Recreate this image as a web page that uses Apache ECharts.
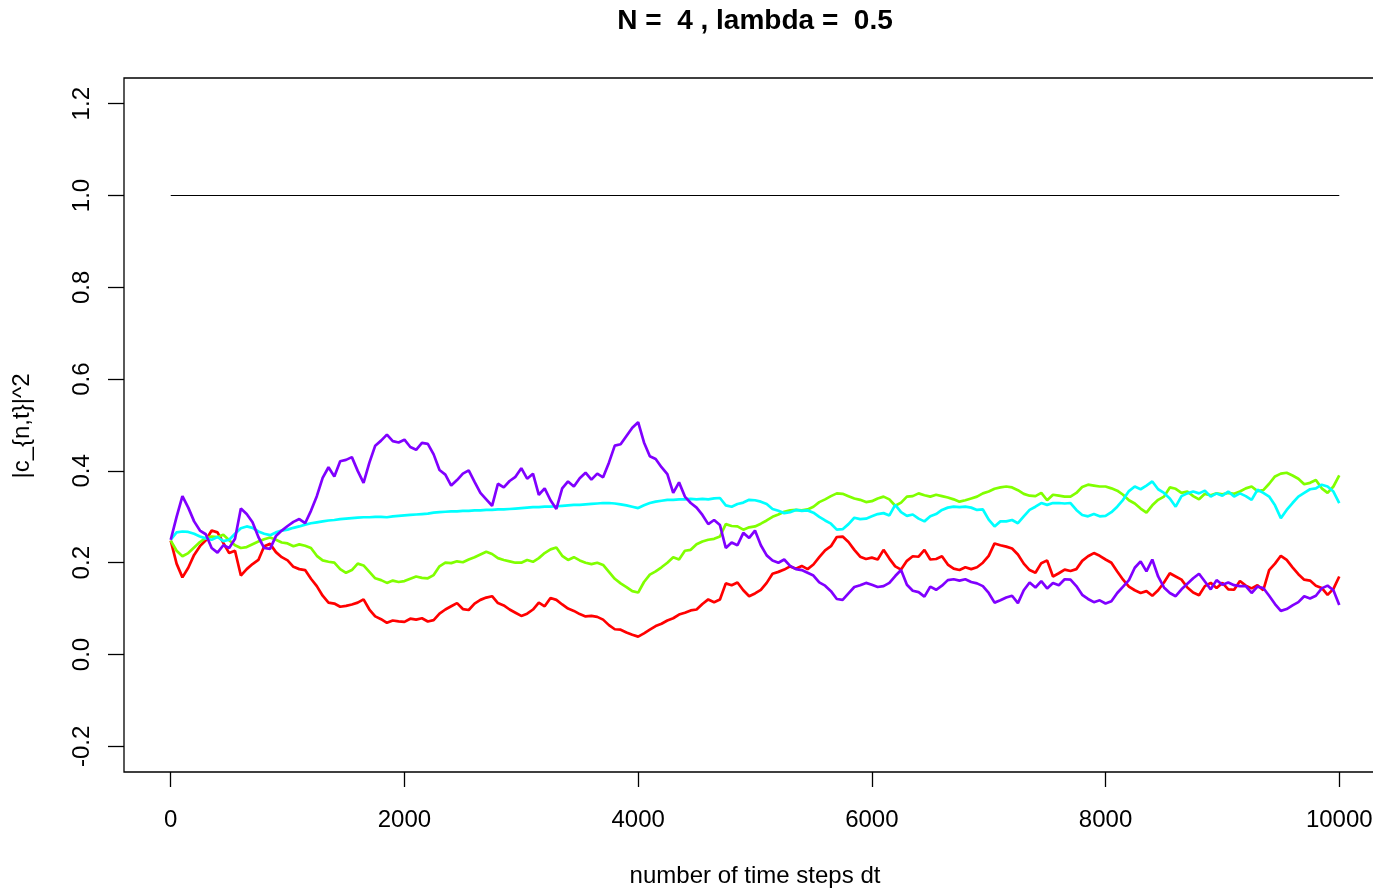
<!DOCTYPE html>
<html>
<head>
<meta charset="utf-8">
<script src="https://cdn.jsdelivr.net/npm/echarts@6/dist/echarts.min.js"></script>
<style>
  html, body { margin: 0; padding: 0; background: #fff; }
  #chart { width: 1373px; height: 890px; }
</style>
</head>
<body>
<div id="chart"></div>
<script>
// Occupation probabilities |c_{n,t}|^2 for N = 4 states, sampled every 50 time steps
const sampleEvery = 50;

const xTicks = [0, 2000, 4000, 6000, 8000, 10000];
const yTicks = [-0.2, 0, 0.2, 0.4, 0.6, 0.8, 1.0, 1.2];

const totalProb = [1.0, 1.0];           // sum over states, at t = 0 and t = 10000
const totalProbT = [0, 10000];

const state1 = [ // red
  0.248, 0.198, 0.168, 0.189, 0.217, 0.236, 0.249, 0.270, 0.266, 0.243,
  0.221, 0.226, 0.172, 0.186, 0.197, 0.206, 0.236, 0.241, 0.223, 0.212,
  0.205, 0.191, 0.186, 0.184, 0.165, 0.149, 0.128, 0.113, 0.111, 0.104,
  0.106, 0.109, 0.113, 0.120, 0.098, 0.083, 0.077, 0.069, 0.074, 0.072,
  0.071, 0.078, 0.076, 0.079, 0.072, 0.075, 0.089, 0.098, 0.105, 0.112,
  0.099, 0.097, 0.111, 0.119, 0.124, 0.127, 0.112, 0.107, 0.098, 0.091,
  0.084, 0.089, 0.098, 0.113, 0.105, 0.123, 0.119, 0.109, 0.100, 0.095,
  0.088, 0.083, 0.084, 0.082, 0.076, 0.064, 0.055, 0.054, 0.048, 0.043,
  0.039, 0.046, 0.054, 0.062, 0.067, 0.074, 0.079, 0.087, 0.091, 0.096,
  0.098, 0.110, 0.120, 0.114, 0.120, 0.155, 0.151, 0.157, 0.140, 0.127,
  0.133, 0.141, 0.156, 0.176, 0.180, 0.185, 0.192, 0.187, 0.193, 0.186,
  0.196, 0.212, 0.227, 0.236, 0.256, 0.257, 0.245, 0.228, 0.213, 0.208,
  0.211, 0.207, 0.228, 0.209, 0.192, 0.185, 0.204, 0.214, 0.213, 0.228,
  0.207, 0.208, 0.214, 0.196, 0.187, 0.184, 0.190, 0.186, 0.190, 0.200,
  0.215, 0.242, 0.238, 0.235, 0.231, 0.218, 0.198, 0.184, 0.178, 0.199,
  0.205, 0.170, 0.177, 0.185, 0.182, 0.186, 0.204, 0.214, 0.221, 0.215,
  0.207, 0.200, 0.181, 0.163, 0.148, 0.140, 0.134, 0.138, 0.128, 0.140,
  0.157, 0.177, 0.170, 0.163, 0.146, 0.135, 0.129, 0.149, 0.156, 0.145,
  0.156, 0.142, 0.141, 0.160, 0.150, 0.144, 0.151, 0.140, 0.184, 0.198,
  0.215, 0.206, 0.190, 0.175, 0.163, 0.161, 0.150, 0.145, 0.130, 0.143, 0.170
];

const state2 = [ // green
  0.248, 0.226, 0.214, 0.221, 0.233, 0.245, 0.254, 0.257, 0.256, 0.261,
  0.249, 0.238, 0.232, 0.234, 0.240, 0.246, 0.251, 0.255, 0.250, 0.244,
  0.242, 0.236, 0.240, 0.237, 0.232, 0.215, 0.205, 0.202, 0.200, 0.186,
  0.178, 0.184, 0.198, 0.194, 0.180, 0.166, 0.162, 0.156, 0.161, 0.158,
  0.160, 0.165, 0.170, 0.167, 0.166, 0.173, 0.192, 0.200, 0.199, 0.203,
  0.201, 0.207, 0.212, 0.218, 0.224, 0.219, 0.210, 0.206, 0.203, 0.200,
  0.200, 0.206, 0.202, 0.210, 0.221, 0.229, 0.233, 0.215, 0.206, 0.212,
  0.205, 0.200, 0.197, 0.200, 0.195, 0.180, 0.165, 0.155, 0.147, 0.138,
  0.135, 0.158, 0.174, 0.181, 0.190, 0.200, 0.212, 0.207, 0.226, 0.228,
  0.240, 0.246, 0.250, 0.252, 0.257, 0.284, 0.280, 0.279, 0.272, 0.277,
  0.279, 0.285, 0.292, 0.300, 0.305, 0.311, 0.314, 0.315, 0.314, 0.316,
  0.322, 0.332, 0.338, 0.345, 0.351, 0.350, 0.345, 0.340, 0.337, 0.332,
  0.334, 0.340, 0.344, 0.338, 0.324, 0.331, 0.344, 0.345, 0.351, 0.347,
  0.344, 0.348, 0.345, 0.342, 0.338, 0.333, 0.336, 0.340, 0.344, 0.351,
  0.355, 0.361, 0.364, 0.366, 0.364, 0.358, 0.350, 0.346, 0.345, 0.352,
  0.336, 0.348, 0.346, 0.344, 0.344, 0.352, 0.365, 0.370, 0.368, 0.366,
  0.366, 0.362, 0.357, 0.348, 0.336, 0.329, 0.318, 0.309, 0.325, 0.337,
  0.344, 0.364, 0.361, 0.352, 0.355, 0.345, 0.338, 0.350, 0.347, 0.351,
  0.349, 0.352, 0.350, 0.355, 0.362, 0.366, 0.356, 0.358, 0.372, 0.388,
  0.394, 0.396, 0.390, 0.383, 0.371, 0.374, 0.380, 0.362, 0.352, 0.366, 0.390
];

const state3 = [ // cyan
  0.250, 0.266, 0.268, 0.267, 0.263, 0.257, 0.253, 0.250, 0.256, 0.247,
  0.250, 0.263, 0.275, 0.279, 0.276, 0.268, 0.263, 0.260, 0.266, 0.270,
  0.272, 0.276, 0.279, 0.283, 0.286, 0.288, 0.290, 0.292, 0.293, 0.295,
  0.296, 0.297, 0.298, 0.299, 0.299, 0.300, 0.300, 0.299, 0.301, 0.302,
  0.303, 0.304, 0.305, 0.306, 0.307, 0.309, 0.310, 0.311, 0.312, 0.312,
  0.313, 0.313, 0.314, 0.314, 0.315, 0.315, 0.316, 0.316, 0.317, 0.318,
  0.319, 0.320, 0.321, 0.321, 0.322, 0.322, 0.323, 0.324, 0.325, 0.326,
  0.326, 0.327, 0.328, 0.329, 0.330, 0.330, 0.329, 0.327, 0.325, 0.322,
  0.319, 0.325, 0.330, 0.333, 0.335, 0.337, 0.337, 0.338, 0.338, 0.339,
  0.338, 0.339, 0.338, 0.340, 0.341, 0.325, 0.322, 0.328, 0.331, 0.337,
  0.336, 0.333, 0.328, 0.317, 0.313, 0.308, 0.310, 0.315, 0.313, 0.314,
  0.309, 0.300, 0.292, 0.285, 0.272, 0.273, 0.284, 0.298, 0.295, 0.296,
  0.301, 0.306, 0.308, 0.303, 0.326, 0.310, 0.302, 0.305, 0.296, 0.290,
  0.301, 0.306, 0.315, 0.320, 0.322, 0.321, 0.322, 0.320, 0.315, 0.316,
  0.294, 0.279, 0.290, 0.290, 0.293, 0.286, 0.301, 0.315, 0.322, 0.330,
  0.326, 0.330, 0.330, 0.329, 0.330, 0.315, 0.304, 0.301, 0.306, 0.301,
  0.302, 0.310, 0.322, 0.337, 0.356, 0.366, 0.360, 0.368, 0.377, 0.360,
  0.352, 0.340, 0.322, 0.345, 0.351, 0.355, 0.351, 0.357, 0.344, 0.351,
  0.346, 0.355, 0.344, 0.351, 0.345, 0.337, 0.359, 0.352, 0.344, 0.325,
  0.297, 0.315, 0.330, 0.344, 0.352, 0.360, 0.362, 0.370, 0.366, 0.355, 0.330
];

const state4 = [ // purple
  0.250, 0.300, 0.345, 0.320, 0.290, 0.270, 0.262, 0.232, 0.222, 0.238,
  0.232, 0.252, 0.318, 0.306, 0.288, 0.256, 0.232, 0.230, 0.258, 0.270,
  0.280, 0.289, 0.295, 0.286, 0.313, 0.345, 0.385, 0.408, 0.388, 0.421,
  0.424, 0.430, 0.400, 0.374, 0.418, 0.455, 0.466, 0.479, 0.465, 0.462,
  0.468, 0.452, 0.446, 0.461, 0.459, 0.436, 0.402, 0.392, 0.368, 0.380,
  0.394, 0.401, 0.376, 0.352, 0.338, 0.324, 0.372, 0.364, 0.378, 0.387,
  0.406, 0.383, 0.394, 0.348, 0.362, 0.336, 0.317, 0.362, 0.377, 0.366,
  0.384, 0.396, 0.381, 0.394, 0.386, 0.418, 0.455, 0.458, 0.476, 0.494,
  0.506, 0.462, 0.432, 0.426, 0.408, 0.393, 0.352, 0.375, 0.344, 0.330,
  0.320, 0.304, 0.284, 0.293, 0.282, 0.232, 0.244, 0.238, 0.265, 0.254,
  0.270, 0.238, 0.216, 0.205, 0.200, 0.207, 0.193, 0.186, 0.184, 0.178,
  0.172, 0.157, 0.150, 0.138, 0.121, 0.119, 0.133, 0.147, 0.151, 0.156,
  0.152, 0.147, 0.149, 0.156, 0.171, 0.184, 0.152, 0.139, 0.136, 0.126,
  0.148, 0.141, 0.150, 0.162, 0.164, 0.161, 0.164, 0.158, 0.155, 0.149,
  0.134, 0.113, 0.118, 0.124, 0.128, 0.112, 0.140, 0.157, 0.146, 0.160,
  0.144, 0.156, 0.151, 0.164, 0.163, 0.149, 0.130, 0.121, 0.114, 0.118,
  0.111, 0.116, 0.134, 0.148, 0.162, 0.189, 0.203, 0.181, 0.207, 0.170,
  0.146, 0.134, 0.127, 0.142, 0.154, 0.166, 0.176, 0.159, 0.142, 0.162,
  0.152, 0.157, 0.151, 0.149, 0.149, 0.134, 0.148, 0.145, 0.128, 0.110,
  0.095, 0.099, 0.107, 0.114, 0.127, 0.122, 0.128, 0.144, 0.150, 0.140, 0.108
];

const stateColors = ['#FF0000', '#80FF00', '#00FFFF', '#8000FF'];
const states = [state1, state2, state3, state4];

const font = '"Liberation Sans", Arial, sans-serif';

function withTime(values) {
  return values.map((v, i) => [i * sampleEvery, v]);
}

const series = [{
  type: 'line',
  data: totalProb.map((v, i) => [totalProbT[i], v]),
  symbol: 'none',
  lineStyle: { color: '#000', width: 1.2 },
  silent: true,
  z: 2
}];
states.forEach((vals, k) => {
  series.push({
    type: 'line',
    data: withTime(vals),
    symbol: 'none',
    lineStyle: { color: stateColors[k], width: 2.7 },
    silent: true,
    z: 3 + k
  });
});

const chart = echarts.init(document.getElementById('chart'), null, { renderer: 'canvas' });
chart.setOption({
  animation: false,
  backgroundColor: '#fff',
  grid: {
    left: 124, top: 78, width: 1262, height: 694,
    outerBoundsMode: 'none',
    containLabel: false,
    show: true, borderColor: '#000', borderWidth: 1.3, backgroundColor: 'transparent'
  },
  xAxis: {
    type: 'value', min: -400, max: 10400,
    axisLine: { show: false, onZero: false },
    splitLine: { show: false },
    axisTick: { show: true, inside: false, customValues: xTicks, length: 15, lineStyle: { color: '#000', width: 1.3 } },
    axisLabel: {
      customValues: xTicks, margin: 36, color: '#000', fontFamily: font, fontSize: 24,
      formatter: v => String(v)
    }
  },
  yAxis: {
    type: 'value', min: -0.256, max: 1.256,
    axisLine: { show: false, onZero: false },
    splitLine: { show: false },
    axisTick: { show: true, inside: false, customValues: yTicks, length: 16, lineStyle: { color: '#000', width: 1.3 } },
    axisLabel: {
      customValues: yTicks, rotate: 90, margin: 30, color: '#000',
      fontFamily: font, fontSize: 24,
      formatter: v => v.toFixed(1)
    }
  },
  graphic: [
    {
      type: 'text', x: 755, y: 21,
      style: { text: 'N =  4 , lambda =  0.5', font: 'bold 28px ' + font, fill: '#000', align: 'center', verticalAlign: 'middle' }
    },
    {
      type: 'text', x: 755, y: 876,
      style: { text: 'number of time steps dt', font: '24px ' + font, fill: '#000', align: 'center', verticalAlign: 'middle' }
    },
    {
      type: 'text', x: 22, y: 426, rotation: Math.PI / 2,
      style: { text: '|c_{n,t}|^2', font: '24px ' + font, fill: '#000', align: 'center', verticalAlign: 'middle' }
    }
  ],
  series: series
});
</script>
</body>
</html>
